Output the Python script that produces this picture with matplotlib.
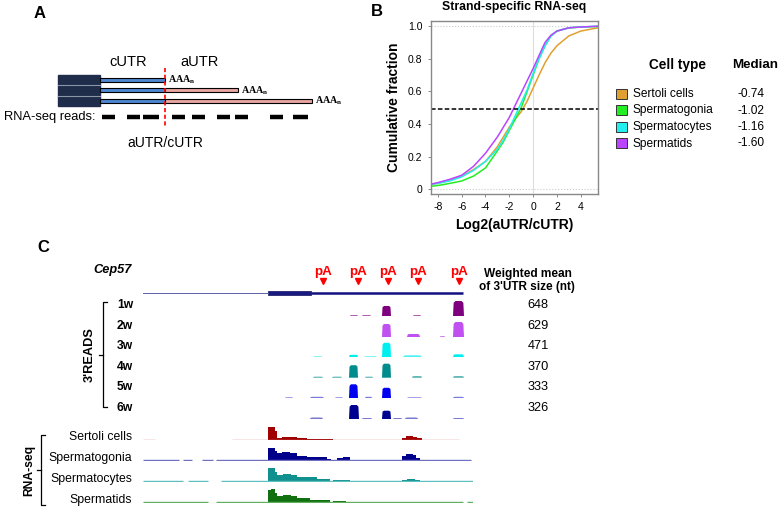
import matplotlib.pyplot as plt
from matplotlib.patches import Rectangle

plt.rcParams['font.family'] = ['Liberation Sans', 'DejaVu Sans']
plt.rcParams['axes.unicode_minus'] = False

W, H = 778, 511

# ---------------- panel B data: cumulative fraction vs log2(aUTR/cUTR)
log_ratio = [-8.6, -8, -7, -6, -5, -4, -3, -2.5, -2, -1.5, -1, -0.5, 0, 0.5, 1, 1.5, 2, 3, 4, 5.45]
cdf_sertoli = [0.03, 0.035, 0.055, 0.08, 0.12, 0.17, 0.26, 0.32, 0.38, 0.43, 0.475, 0.54, 0.62, 0.70, 0.775, 0.835, 0.88, 0.94, 0.97, 0.99]
cdf_spermatogonia = [0.017, 0.022, 0.035, 0.05, 0.08, 0.13, 0.235, 0.29, 0.36, 0.43, 0.50, 0.60, 0.70, 0.80, 0.88, 0.94, 0.97, 0.99, 0.995, 0.998]
cdf_spermatocytes = [0.03, 0.035, 0.05, 0.075, 0.115, 0.17, 0.245, 0.30, 0.37, 0.45, 0.53, 0.61, 0.71, 0.80, 0.88, 0.94, 0.97, 0.99, 0.995, 1.0]
cdf_spermatids = [0.03, 0.04, 0.06, 0.085, 0.14, 0.22, 0.32, 0.38, 0.44, 0.515, 0.59, 0.665, 0.74, 0.82, 0.90, 0.945, 0.97, 0.99, 0.995, 1.0]
cell_types = ['Sertoli cells', 'Spermatogonia', 'Spermatocytes', 'Spermatids']
medians = ['-0.74', '-1.02', '-1.16', '-1.60']
cell_colors = ['#E0A030', '#22EE22', '#22EEEE', '#BB44FF']
median_line = 0.49

# ---------------- panel A schematic
isoform_ends = [165, 238, 312]
read_dashes = [(102, 115), (127, 140), (143, 159), (172, 185), (192, 205),
               (217, 230), (235, 248), (270, 283), (293, 308)]

# ---------------- panel C data (positions along the Cep57 locus, arbitrary units)
intron = (0, 125)
cds = (125, 168)
utr3 = (168, 320)
pa_sites = [180, 215, 245, 275, 316]

weeks = ['1w', '2w', '3w', '4w', '5w', '6w']
utr_size = [648, 629, 471, 370, 333, 326]
reads_peaks = [
    [(207, 215, 1), (219, 228, 1), (239, 248, 10), (270, 278, 1), (310, 321, 15)],
    [(239, 248, 13), (264, 277, 3), (297, 302, 1), (310, 321, 15)],
    [(170, 179, 1), (206, 215, 2.5), (221, 234, 1), (239, 248, 14.5), (260, 279, 2), (310, 321, 3)],
    [(170, 180, 1), (189, 199, 1), (206, 215, 12.5), (222, 230, 1), (239, 248, 14), (269, 279, 1.5), (310, 321, 1.5)],
    [(142, 150, 1), (167, 181, 1.5), (192, 200, 1), (206, 215, 14), (222, 229, 1.5), (239, 248, 10.5), (264, 279, 1), (310, 321, 1.5)],
    [(167, 180, 1.5), (206, 216, 14), (219, 229, 1), (239, 248, 8.3), (250, 259, 1), (262, 275, 1.5), (310, 321, 1)],
]
reads_colors = ['#7F007F', '#C050F0', '#00F0F0', '#008C8C', '#0000F0', '#000090']
reads_light = ['#B060B0', '#D080F0', '#50F0F0', '#40A8A8', '#7878E0', '#7878D0']

rna_labels = ['Sertoli cells', 'Spermatogonia', 'Spermatocytes', 'Spermatids']
rna_colors = ['#A00000', '#00008B', '#119090', '#107010']
rna_light = ['#D88080', '#7070C0', '#60C0C0', '#60B060']
rna_covered = [
    [(0, 12), (89, 125), (125, 316)],
    [(0, 36), (40, 49), (59, 70), (73, 328)],
    [(0, 40), (45, 65), (78, 332)],
    [(0, 65), (73, 320), (324, 332)],
]
rna_blocks = [
    [(125, 128, 13), (128, 132, 13.3), (132, 134, 9), (134, 139, 2), (139, 144, 2.5), (144, 150, 3), (150, 154, 2.5),
     (154, 164, 1.5), (164, 190, 0.7), (259, 263, 2), (263, 270, 3.5), (270, 274, 3), (274, 279, 1.5)],
    [(125, 128, 12.5), (128, 132, 13), (132, 134, 10), (134, 139, 7.5), (139, 147, 8.3), (147, 154, 7.5), (154, 164, 5),
     (164, 174, 4), (174, 184, 4), (184, 188, 2), (194, 200, 2.5), (200, 207, 3.3), (220, 247, 1),
     (259, 263, 5), (263, 270, 7), (270, 273, 5.5), (273, 277, 3), (280, 287, 0.7)],
    [(125, 128, 13.5), (128, 132, 14), (132, 134, 10), (134, 140, 7), (140, 148, 8), (148, 154, 7), (154, 174, 5),
     (174, 187, 3), (190, 207, 2), (207, 254, 1), (259, 264, 2), (264, 272, 2.5), (272, 277, 1.5)],
    [(125, 128, 13), (128, 132, 13.6), (132, 134, 10), (134, 140, 7), (140, 148, 7.5), (148, 154, 6.5), (154, 167, 5),
     (167, 187, 3), (190, 197, 2), (197, 203, 1.5), (203, 220, 1)],
]

fig = plt.figure(figsize=(W / 100, H / 100), dpi=100)


def px_axes(x0, y0, x1, y1):
    return fig.add_axes([x0 / W, 1 - y1 / H, (x1 - x0) / W, (y1 - y0) / H])


ov = px_axes(0, 0, W, H)
ov.set_xlim(0, W)
ov.set_ylim(H, 0)
ov.axis('off')

# ================= panel A =================
ov.text(40, 13, 'A', fontsize=12, fontweight='bold', ha='center', va='center')
ov.text(128, 62, 'cUTR', fontsize=10.5, ha='center', va='center')
ov.text(200, 62, 'aUTR', fontsize=10.5, ha='center', va='center')
ov.add_patch(Rectangle((58, 75), 42, 31, color='#1f2c4a', zorder=2))
for ys in (85.5, 96):
    ov.plot([58, 100], [ys, ys], color='#8a95a8', lw=0.8, zorder=3)
split = isoform_ends[0]
for i, end in enumerate(isoform_ends):
    yc = 80 + i * 10.5
    ov.add_patch(Rectangle((100, yc - 2), split - 100, 4, facecolor='#4f86d0',
                           edgecolor='black', lw=0.8, zorder=3))
    if end > split:
        ov.add_patch(Rectangle((split, yc - 2), end - split, 4, facecolor='#e8a6a0',
                               edgecolor='black', lw=0.8, zorder=3))
    ov.text(end + 3, yc, r'AAA$_\mathregular{n}$', fontsize=7.2, fontweight='bold',
            family='Liberation Serif', ha='left', va='center')
ov.plot([split, split], [68, 128], color='red', lw=1.2, ls=(0, (2.5, 1.5)), zorder=4)
ov.text(96, 117, 'RNA-seq reads:', fontsize=9.3, ha='right', va='center')
for s, e in read_dashes:
    ov.plot([s, e], [117, 117], color='black', lw=3.2, solid_capstyle='butt')
ov.text(165, 143, 'aUTR/cUTR', fontsize=10, ha='center', va='center')

# ================= panel B =================
ov.text(377, 12, 'B', fontsize=12, fontweight='bold', ha='center', va='center')
axb = px_axes(430.7, 21.3, 598, 194)
axb.axhline(0, color='#cccccc', ls=':', lw=0.8)
axb.axhline(1, color='#cccccc', ls=':', lw=0.8)
axb.axvline(0, color='#dddddd', lw=0.8)
for cdf, c in zip([cdf_sertoli, cdf_spermatogonia, cdf_spermatocytes, cdf_spermatids], cell_colors):
    axb.plot(log_ratio, cdf, color=c, lw=1.1)
axb.axhline(median_line, color='black', ls=(0, (3, 1.5)), lw=1.1)
axb.set_xlim(-8.6, 5.45)
axb.set_ylim(-0.03, 1.03)
axb.set_xticks([-8, -6, -4, -2, 0, 2, 4])
axb.set_yticks([0, 0.2, 0.4, 0.6, 0.8, 1.0])
axb.set_yticklabels(['0', '0.2', '0.4', '0.6', '0.8', '1.0'])
axb.tick_params(labelsize=7.5, length=2, width=0.6, color='#777777', pad=4)
for sp in axb.spines.values():
    sp.set_color('#888888')
    sp.set_linewidth(1)
axb.set_title('Strand-specific RNA-seq', fontsize=8.8, fontweight='bold', pad=8)
axb.set_ylabel('Cumulative fraction', fontsize=10, fontweight='bold')
axb.yaxis.set_label_coords(-0.177, 0.5)
axb.set_xlabel('Log2(aUTR/cUTR)', fontsize=10, fontweight='bold')
axb.xaxis.set_label_coords(0.5, -0.14)

ov.text(678, 65, 'Cell type', fontsize=9.8, fontweight='bold', ha='center', va='center')
ov.text(732, 65, 'Median', fontsize=9.6, fontweight='bold', ha='left', va='center')
for i, (name, med, c) in enumerate(zip(cell_types, medians, cell_colors)):
    yc = 94 + i * 16.5
    ov.add_patch(Rectangle((616, yc - 5), 11, 10, facecolor=c, edgecolor='#333333', lw=0.7))
    ov.text(633, yc, name, fontsize=8.6, ha='left', va='center')
    ov.text(765, yc, med, fontsize=8.6, ha='right', va='center')

# ================= panel C =================
ov.text(43, 247, 'C', fontsize=12, fontweight='bold', ha='center', va='center')
ov.text(132, 270, 'Cep57', fontsize=9.2, fontweight='bold', style='italic', ha='right', va='center')
ov.text(528, 274, 'Weighted mean', fontsize=8.6, fontweight='bold', ha='center', va='center')
ov.text(527, 287, "of 3'UTR size (nt)", fontsize=8.5, fontweight='bold', ha='center', va='center')

track_x0, track_x1 = 143, 473

axg = px_axes(track_x0, 262, track_x1, 300)
axg.set_xlim(0, track_x1 - track_x0)
axg.set_ylim(0, 38)
axg.axis('off')
axg.plot(intron, [7, 7], color='#6060a8', lw=0.7)
axg.add_patch(Rectangle((cds[0], 5), cds[1] - cds[0], 4, facecolor='#1a1a80', edgecolor='#101060', lw=0.5))
axg.plot(utr3, [7, 7], color='#101080', lw=1.8, solid_capstyle='butt')
axg.plot(pa_sites, [19] * len(pa_sites), 'v', color='red', ms=5, mec='red')
for p in pa_sites:
    axg.text(p, 28.5, 'pA', color='red', fontsize=9.6, fontweight='bold', ha='center', va='center')

reads_base = [316, 337, 357.3, 377.7, 398.3, 419]
for i, wk in enumerate(weeks):
    b = reads_base[i]
    ax = px_axes(track_x0, b - 16, track_x1, b)
    ax.set_xlim(0, track_x1 - track_x0)
    ax.set_ylim(0, 16)
    ax.axis('off')
    for s, e, h in reads_peaks[i]:
        w = e - s
        c = reads_colors[i] if h > 2 else reads_light[i]
        ax.fill([s, s + 0.06 * w, s + 0.22 * w, e - 0.22 * w, e - 0.06 * w, e],
                [0, 0.88 * h, h, h, 0.88 * h, 0], color=c, lw=0)
    ov.text(117, b - 11, wk, fontsize=8.7, fontweight='bold', ha='left', va='center')
    ov.text(538, b - 11, str(utr_size[i]), fontsize=9.2, ha='center', va='center')

ov.plot([107, 103, 103, 107], [302, 302, 407, 407], color='black', lw=0.9)
ov.plot([99, 103], [355, 355], color='black', lw=0.9)
ov.text(90, 355, "3'READS", fontsize=9.2, fontweight='bold', rotation=90, ha='center', va='center')

rna_base = [440, 460.7, 481.7, 502.7]
for i, lab in enumerate(rna_labels):
    b = rna_base[i]
    ax = px_axes(track_x0, b - 16, track_x1, b)
    ax.set_xlim(0, track_x1 - track_x0)
    ax.set_ylim(0, 16)
    ax.axis('off')
    for s, e in rna_covered[i]:
        ax.plot([s, e], [0.5, 0.5], color=rna_light[i], lw=1.0, solid_capstyle='butt')
    for s, e, h in rna_blocks[i]:
        ax.fill_between([s, e], 0, h, color=rna_colors[i], lw=0)
    ov.text(132, b - 3, lab, fontsize=8.8, ha='right', va='center')

ov.plot([45, 41, 41, 45], [435, 435, 505, 505], color='black', lw=0.9)
ov.plot([37, 41], [470, 470], color='black', lw=0.9)
ov.text(29, 470, 'RNA-seq', fontsize=8.7, fontweight='bold', rotation=90, ha='center', va='center')

fig.savefig('out.png', dpi=100)
